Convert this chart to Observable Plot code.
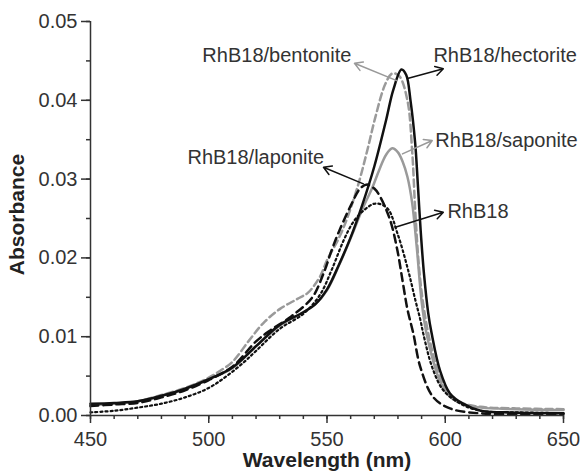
<!DOCTYPE html>
<html>
<head>
<meta charset="utf-8">
<script src="https://cdn.jsdelivr.net/npm/d3@7"></script>
<script src="https://cdn.jsdelivr.net/npm/@observablehq/plot@0.6"></script>
<style>
  html, body { margin: 0; padding: 0; background: #fff; }
  #chart { width: 582px; height: 471px; }
</style>
</head>
<body>
<div id="chart"></div>
<script>
// [wavelength (nm), absorbance]
const hectorite = [
  [450,0.0015],[460,0.0016],[470,0.0018],[480,0.0025],[490,0.0034],[500,0.0046],
  [510,0.0061],[520,0.0088],[530,0.0115],[540,0.0131],[545,0.0141],[550,0.0160],
  [555,0.0191],[560,0.0226],[565,0.0268],[570,0.0316],[575,0.0375],[578,0.0413],
  [581.5,0.0439],[583.5,0.0432],[585.3,0.0400],[587.3,0.0345],[588.4,0.0294],
  [589.6,0.0235],[591,0.0180],[592.8,0.0130],[594.2,0.0105],[597.8,0.0057],
  [602,0.0028],[607.5,0.0015],[615,0.0006],[625,0.0004],[650,0.0003]
];
const bentonite = [
  [450,0.0013],[460,0.0015],[470,0.0018],[480,0.0026],[490,0.0035],[500,0.0048],
  [505,0.0057],[510,0.0068],[517,0.0095],[523,0.0117],[530,0.0135],[537.5,0.0148],
  [542,0.0156],[547,0.0176],[550,0.0197],[555,0.0225],[558.6,0.0251],[563.3,0.0294],
  [567,0.0336],[570.4,0.0378],[574.7,0.0421],[577.6,0.0434],[580.5,0.0431],
  [584,0.0400],[586,0.0336],[587.4,0.0255],[589,0.0185],[591,0.0135],[594,0.0088],
  [598,0.0047],[602,0.0026],[607,0.0016],[615,0.0011],[630,0.0009],[650,0.0008]
];
const saponite = [
  [450,0.0014],[460,0.0015],[470,0.0018],[480,0.0025],[490,0.0034],[500,0.0046],
  [510,0.0060],[520,0.0088],[530,0.0114],[540,0.0131],[545,0.0141],[550,0.0159],
  [555,0.0190],[560,0.0225],[565,0.0262],[569,0.0288],[572,0.0311],[575,0.0331],
  [577.6,0.0339],[580,0.0334],[582,0.0322],[584,0.0303],[586,0.0270],[588,0.0212],
  [590,0.0145],[592,0.0105],[595,0.0068],[598,0.0042],[602,0.0024],[607,0.0015],
  [615,0.0010],[630,0.0008],[650,0.0007]
];
const laponite = [
  [450,0.0012],[460,0.0014],[470,0.0016],[480,0.0023],[490,0.0032],[500,0.0045],
  [510,0.0062],[520,0.0094],[526,0.0108],[535,0.0126],[543.8,0.0150],[548.5,0.0180],
  [552,0.0210],[555,0.0233],[560,0.0266],[564,0.0288],[567,0.0293],[570,0.0288],
  [572.6,0.0277],[576.8,0.0247],[579.8,0.0209],[582,0.0170],[584,0.0135],
  [586.5,0.0104],[589.5,0.0061],[595,0.0023],[602,0.0009],[613.6,0.0003],[650,0.0002]
];
const rhb18 = [
  [450,0.0004],[460,0.0006],[470,0.0010],[480,0.0015],[490,0.0023],[500,0.0035],
  [508,0.0051],[515,0.0068],[520,0.0082],[530,0.0110],[540,0.0129],[547,0.0153],
  [552,0.0185],[557,0.0222],[561,0.0245],[565.4,0.0260],[570.5,0.0269],[575.5,0.0263],
  [579.8,0.0231],[584,0.0188],[587.4,0.0146],[589.5,0.0121],[590.7,0.0104],
  [594.5,0.0061],[599.2,0.0032],[606.4,0.0015],[615,0.0006],[630,0.0004],[650,0.0003]
];

const xMajorTicks = [450, 500, 550, 600, 650];
const xMinorTicks = d3.range(450, 651, 10);
const yMajorTicks = [0, 0.01, 0.02, 0.03, 0.04, 0.05];
const yMinorTicks = d3.range(0, 0.0501, 0.005);

// label annotations: text, label anchor (x,y), arrow from curve (x1,y1) to label (x2,y2)
const labelNames  = ["RhB18/bentonite", "RhB18/hectorite", "RhB18/saponite", "RhB18", "RhB18/laponite"];
const labelX      = [497.3, 595.0, 595.8, 600.9, 491.0];
const labelY      = [0.0457, 0.0457, 0.0349, 0.0259, 0.0327];
const arrowFromX  = [579.5, 584.4, 581.9, 578.9, 565.4];
const arrowFromY  = [0.0425, 0.0428, 0.0332, 0.0239, 0.0294];
const arrowToX    = [561.6, 599.2, 594.5, 599.2, 548.5];
const arrowToY    = [0.0447, 0.0440, 0.0349, 0.0258, 0.0315];
const arrowColors = ["#999", "#111", "#999", "#111", "#111"];

const labels = labelNames.map((t, i) => ({
  t, x: labelX[i], y: labelY[i],
  x1: arrowFromX[i], y1: arrowFromY[i], x2: arrowToX[i], y2: arrowToY[i], c: arrowColors[i]
}));

const toObj = arr => arr.map(([x, y]) => ({x, y}));

const chart = Plot.plot({
  width: 582,
  height: 471,
  marginLeft: 90,
  marginRight: 19,
  marginTop: 21,
  marginBottom: 56,
  x: {domain: [450, 650]},
  y: {domain: [0, 0.05]},
  style: {fontFamily: "'Liberation Sans', Arial, sans-serif", fontSize: "20px", color: "#333", background: "#fff"},
  marks: [
    Plot.line(toObj(bentonite), {x: "x", y: "y", stroke: "#9a9a9a", strokeWidth: 2.5, strokeDasharray: "7,4", curve: "catmull-rom"}),
    Plot.line(toObj(saponite), {x: "x", y: "y", stroke: "#9a9a9a", strokeWidth: 2.5, curve: "catmull-rom"}),
    Plot.line(toObj(laponite), {x: "x", y: "y", stroke: "#111", strokeWidth: 2.5, strokeDasharray: "8,5", curve: "catmull-rom"}),
    Plot.line(toObj(rhb18), {x: "x", y: "y", stroke: "#111", strokeWidth: 2.2, strokeDasharray: "2,3", curve: "catmull-rom"}),
    Plot.line(toObj(hectorite), {x: "x", y: "y", stroke: "#111", strokeWidth: 2.5, curve: "catmull-rom"}),

    Plot.arrow(labels, {x1: "x1", y1: "y1", x2: "x2", y2: "y2", stroke: "c", strokeWidth: 1.5, headLength: 9}),
    Plot.text(labels, {x: "x", y: "y", text: "t", textAnchor: "start", lineAnchor: "middle", fontSize: 20, fill: "#333"}),

    Plot.axisX(xMinorTicks, {tickSize: 4, tickFormat: () => "", stroke: "#333", strokeWidth: 1.5, label: null}),
    Plot.axisX(xMajorTicks, {tickSize: 8, tickPadding: 8, tickFormat: d => String(d), stroke: "#333", strokeWidth: 1.5, fontSize: 20, label: null}),
    Plot.axisY(yMinorTicks, {tickSize: 4, tickFormat: () => "", stroke: "#333", strokeWidth: 1.5, label: null}),
    Plot.axisY(yMajorTicks, {tickSize: 9, tickPadding: 4, tickFormat: d3.format(".2f"), stroke: "#333", strokeWidth: 1.5, fontSize: 20, label: null}),
    Plot.ruleY([0], {stroke: "#333", strokeWidth: 1.5}),
    Plot.ruleX([450], {stroke: "#333", strokeWidth: 1.5}),

    Plot.text(["Wavelength (nm)"], {frameAnchor: "bottom", dy: 45, lineAnchor: "middle", fontWeight: "bold", fontSize: 21, fill: "#222"}),
    Plot.text(["Absorbance"], {frameAnchor: "middle", dx: -309.5, dy: -4, rotate: -90, lineAnchor: "middle", fontWeight: "bold", fontSize: 21, fill: "#222"})
  ]
});

document.getElementById("chart").appendChild(chart);
</script>
</body>
</html>
